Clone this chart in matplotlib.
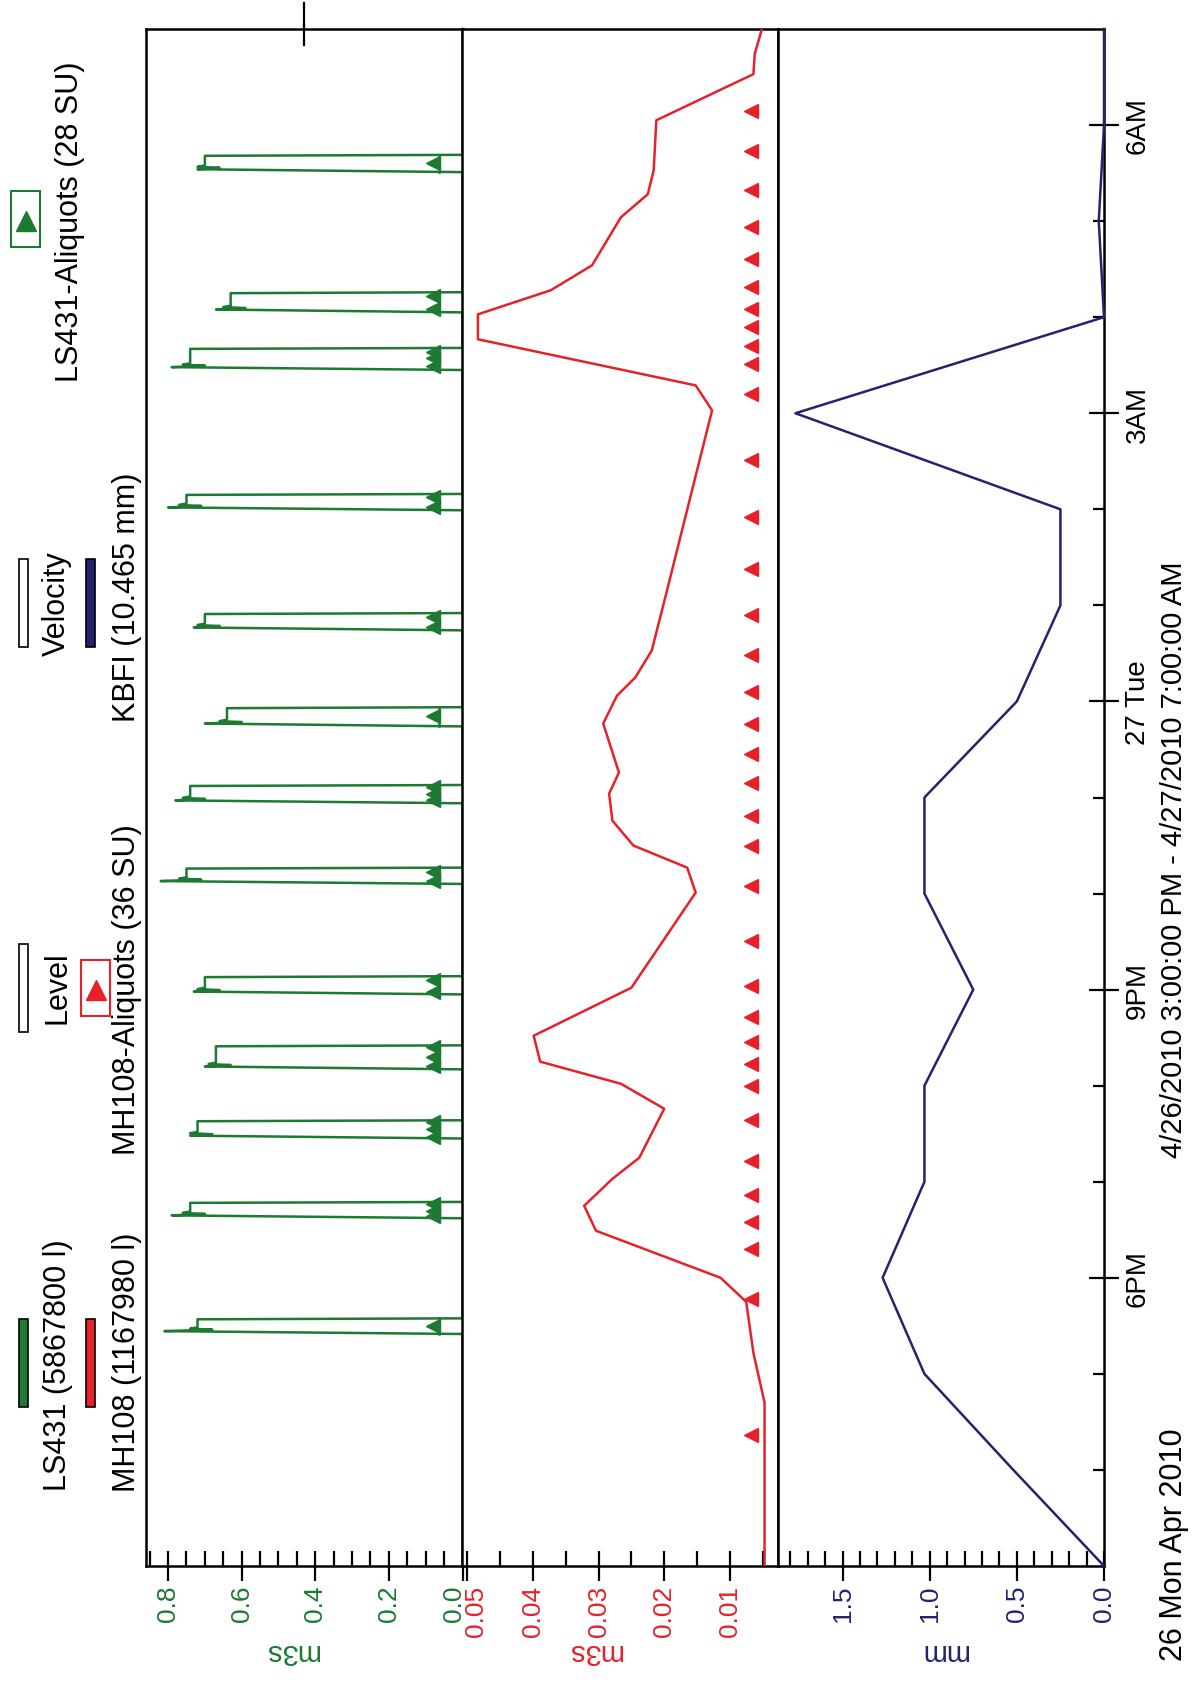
import matplotlib
matplotlib.use('Agg')
import numpy as np
from matplotlib import pyplot as plt
from matplotlib.lines import Line2D
from matplotlib.patches import Rectangle
from matplotlib.transforms import ScaledTranslation

plt.rcParams['font.family'] = ['Liberation Sans', 'DejaVu Sans']

# time axis: hours after 4/26/2010 3:00 PM
T_MIN, T_MAX = 0.0, 16.0
TIME_TICKS = [3, 6, 9, 12, 15]
TIME_LABELS = ['6PM', '9PM', '27 Tue', '3AM', '6AM']
TIME_MINOR = list(range(1, 16))

# LS431 flow (m3s): one pulse per sampling event
LS431_START = [2.415, 3.62, 4.45, 5.17, 5.95, 7.10, 7.94, 8.74, 9.74, 10.99, 12.45, 13.05, 14.51]
LS431_END = [2.578, 3.79, 4.64, 5.42, 6.14, 7.27, 8.13, 8.94, 9.92, 11.16, 12.68, 13.26, 14.69]
LS431_PEAK = [0.81, 0.79, 0.74, 0.70, 0.73, 0.82, 0.78, 0.70, 0.73, 0.80, 0.79, 0.67, 0.72]
LS431_LEVEL = [0.72, 0.74, 0.72, 0.67, 0.70, 0.75, 0.74, 0.64, 0.70, 0.75, 0.74, 0.63, 0.70]
LS431_ALIQ_LINE = 0.065
LS431_ALIQ_VALUE = 0.08
LS431_ALIQ_T = [2.50,
                3.64, 3.70, 3.77,
                4.47, 4.55, 4.62,
                5.20, 5.30, 5.40,
                5.98, 6.10,
                7.13, 7.22,
                7.97, 8.04, 8.11,
                8.85,
                9.77, 9.88,
                11.02, 11.13,
                12.49, 12.57, 12.64,
                13.09, 13.22,
                14.60]

# MH108 flow (m3s)
MH108_T = [0, 1.70, 2.22, 2.75, 3.00, 3.49, 3.75, 4.03, 4.25, 4.76, 5.02, 5.25,
           5.52, 6.02, 7.01, 7.27, 7.50, 7.76, 8.04, 8.26, 8.77, 9.06, 9.25,
           9.53, 10.12, 10.64, 12.03, 12.29, 12.77, 13.03, 13.28, 13.54, 14.04,
           14.28, 14.53, 15.05, 15.53, 15.74, 16.0]
MH108_V = [0.0047, 0.0047, 0.0064, 0.0075, 0.0114, 0.0304, 0.0322, 0.0279,
           0.0238, 0.0200, 0.0266, 0.0389, 0.0399, 0.0250, 0.0152, 0.0165,
           0.0247, 0.0279, 0.0284, 0.0269, 0.0293, 0.0272, 0.0244, 0.0219,
           0.0197, 0.0178, 0.0127, 0.0152, 0.0484, 0.0484, 0.0373, 0.0310,
           0.0266, 0.0225, 0.0216, 0.0212, 0.0064, 0.0062, 0.0051]
MH108_ALIQ_VALUE = 0.0068
MH108_ALIQ_T = [1.36, 2.78, 3.30, 3.58, 3.86, 4.22, 4.64, 5.00, 5.23, 5.45, 5.71,
                6.04, 6.51, 7.08, 7.50, 7.81, 8.15, 8.45, 8.77, 9.10, 9.48, 9.90,
                10.38, 10.92, 11.51, 12.20, 12.51, 12.70, 12.90, 13.09, 13.31,
                13.61, 13.94, 14.32, 14.73, 15.15]

# KBFI rain (mm), hourly
KBFI_T = [0, 1, 2, 3, 4, 5, 6, 7, 8, 9, 10, 11, 12, 13, 14, 15, 16]
KBFI_V = [0, 0.52, 1.03, 1.27, 1.03, 1.03, 0.75, 1.03, 1.03, 0.50, 0.25, 0.25,
          1.77, 0.0, 0.03, 0.0, 0.0]

GREEN_TICKS = [0.0, 0.2, 0.4, 0.6, 0.8]
GREEN_TICK_LABELS = ['0.0', '0.2', '0.4', '0.6', '0.8']
RED_TICKS = [0.01, 0.02, 0.03, 0.04, 0.05]
RED_TICK_LABELS = ['0.01', '0.02', '0.03', '0.04', '0.05']
BLUE_TICKS = [0.0, 0.5, 1.0, 1.5]
BLUE_TICK_LABELS = ['0.0', '0.5', '1.0', '1.5']

GREEN = '#1c7a32'
RED = '#e6212a'
NAVY = '#23236f'

W, H = 1192, 1690
TOP, BOTTOM = 30, 1567


def fx(x):
    return x / W


def fy(y):
    return 1 - y / H


def add_panel(fig, x0, x1):
    ax = fig.add_axes([fx(x0), fy(BOTTOM), (x1 - x0) / W, (BOTTOM - TOP) / H])
    ax.set_ylim(T_MIN, T_MAX)
    ax.set_yticks([])
    for side in ax.spines.values():
        side.set_linewidth(1.8)
    return ax


def style_value_axis(ax, ticks, labels, minor_step, lo, hi, color):
    ax.set_xlim(hi, lo)
    ax.set_xticks(ticks, labels=labels)
    minors = np.arange(0, hi + 1e-9, minor_step)
    ax.set_xticks(minors[(minors > lo) & (minors < hi)], minor=True)
    ax.tick_params(axis='x', which='major', direction='inout', length=21,
                   width=1.6, labelsize=19, labelrotation=90, pad=3,
                   labelcolor=color)
    ax.tick_params(axis='x', which='minor', direction='in', length=11, width=1.6)


def shift_label(fig, label, dx):
    label.set_transform(label.get_transform()
                        + ScaledTranslation(dx / 100, 0, fig.dpi_scale_trans))


fig = plt.figure(figsize=(W / 100, H / 100), dpi=100)

ax_g = add_panel(fig, 146, 462.5)
ax_r = add_panel(fig, 462.5, 778)
ax_b = add_panel(fig, 778, 1104)

# LS431 pulses
g_t, g_v = [T_MIN], [0.0]
for t0, t1, pk, lv in zip(LS431_START, LS431_END, LS431_PEAK, LS431_LEVEL):
    g_t += [t0, t0 + 0.03, t0 + 0.045, t0 + 0.055, t0 + 0.07, t1 - 0.01, t1]
    g_v += [0, pk, lv - 0.04, lv + 0.02, lv, lv, 0]
g_t.append(T_MAX)
g_v.append(0.0)
ax_g.plot(g_v, g_t, color=GREEN, lw=1.8, clip_on=False, zorder=3)
for t0, t1 in zip(LS431_START, LS431_END):
    ax_g.plot([LS431_ALIQ_LINE, LS431_ALIQ_LINE], [t0, t1], color=GREEN, lw=1.8)
ax_g.plot(np.full(len(LS431_ALIQ_T), LS431_ALIQ_VALUE), LS431_ALIQ_T,
          ls='none', marker='<', ms=10, color=GREEN, zorder=4)
style_value_axis(ax_g, GREEN_TICKS, GREEN_TICK_LABELS, 0.05, 0.0, 0.86, GREEN)
ax_g.set_xlabel('m3s', rotation=180, color=GREEN, fontsize=21, va='center')
ax_g.xaxis.set_label_coords(0.46, -0.055)
# stray marker above the frame
ax_g.plot([0.43, 0.43], [15.83, 16.27], color='black', lw=1.6, clip_on=False)

# MH108
ax_r.plot(MH108_V, MH108_T, color=RED, lw=1.8, zorder=3)
ax_r.plot(np.full(len(MH108_ALIQ_T), MH108_ALIQ_VALUE), MH108_ALIQ_T,
          ls='none', marker='<', ms=10, color=RED, zorder=4)
style_value_axis(ax_r, RED_TICKS, RED_TICK_LABELS, 0.005, 0.00265, 0.05075, RED)
ax_r.set_xlabel('m3s', rotation=180, color=RED, fontsize=21, va='center')
ax_r.xaxis.set_label_coords(0.42, -0.055)

# KBFI
ax_b.plot(KBFI_V, KBFI_T, color=NAVY, lw=1.8, clip_on=False, zorder=3)
style_value_axis(ax_b, BLUE_TICKS, BLUE_TICK_LABELS, 0.1, 0.0, 1.87, NAVY)
ax_b.set_xlabel('mm', rotation=180, color=NAVY, fontsize=21, va='center')
ax_b.xaxis.set_label_coords(0.51, -0.055)

ax_b.yaxis.set_ticks_position('right')
ax_b.set_yticks(TIME_TICKS, labels=TIME_LABELS)
ax_b.set_yticks(TIME_MINOR, minor=True)
ax_b.tick_params(axis='y', which='major', direction='inout', length=22,
                 width=1.6, labelsize=20, labelrotation=90, pad=4)
ax_b.tick_params(axis='y', which='minor', direction='in', length=8, width=1.6)
for lab in ax_b.get_yticklabels():
    lab.set_va('center')

# keep the 0.0 / 0.05 labels at the panel join apart
shift_label(fig, ax_g.get_xticklabels()[0], -9)
shift_label(fig, ax_r.get_xticklabels()[-1], 9)

fig.text(fx(1174), fy(1545), '26 Mon Apr 2010', rotation=90, fontsize=22,
         ha='center', va='center')
fig.text(fx(1174), fy(860), '4/26/2010 3:00:00 PM - 4/27/2010 7:00:00 AM',
         rotation=90, fontsize=21, ha='center', va='center')

# legend, drawn by hand to keep the rotated layout
legend_text = [
    ('LS431 (5867800 l)', 58, 1365),
    ('MH108 (1167980 l)', 127, 1362),
    ('Level', 57, 988),
    ('MH108-Aliquots (36 SU)', 127, 990),
    ('Velocity', 57, 604),
    ('KBFI (10.465 mm)', 127, 597),
    ('LS431-Aliquots (28 SU)', 70, 222),
]
for text, x, y in legend_text:
    fig.text(fx(x), fy(y), text, rotation=90, fontsize=22, ha='center', va='center')

swatches = [
    (19, 1320, GREEN, 'black'),
    (86, 1320, RED, 'black'),
    (19, 945, 'white', 'black'),
    (19, 560, 'white', 'black'),
    (86, 560, NAVY, 'black'),
]
for x, y, face, edge in swatches:
    fig.add_artist(Rectangle((fx(x), fy(y + 88)), 9 / W, 88 / H,
                             transform=fig.transFigure, facecolor=face,
                             edgecolor=edge, lw=1.2))

for x, y, color in [(11, 192, GREEN), (81, 961, RED)]:
    fig.add_artist(Rectangle((fx(x), fy(y + 56)), 29 / W, 56 / H,
                             transform=fig.transFigure, facecolor='white',
                             edgecolor=color, lw=1.5))
    fig.add_artist(Line2D([fx(x + 14.5)], [fy(y + 30)], transform=fig.transFigure,
                          marker='^', ms=15, color=color, ls='none'))

fig.savefig('out.png', dpi=100)
